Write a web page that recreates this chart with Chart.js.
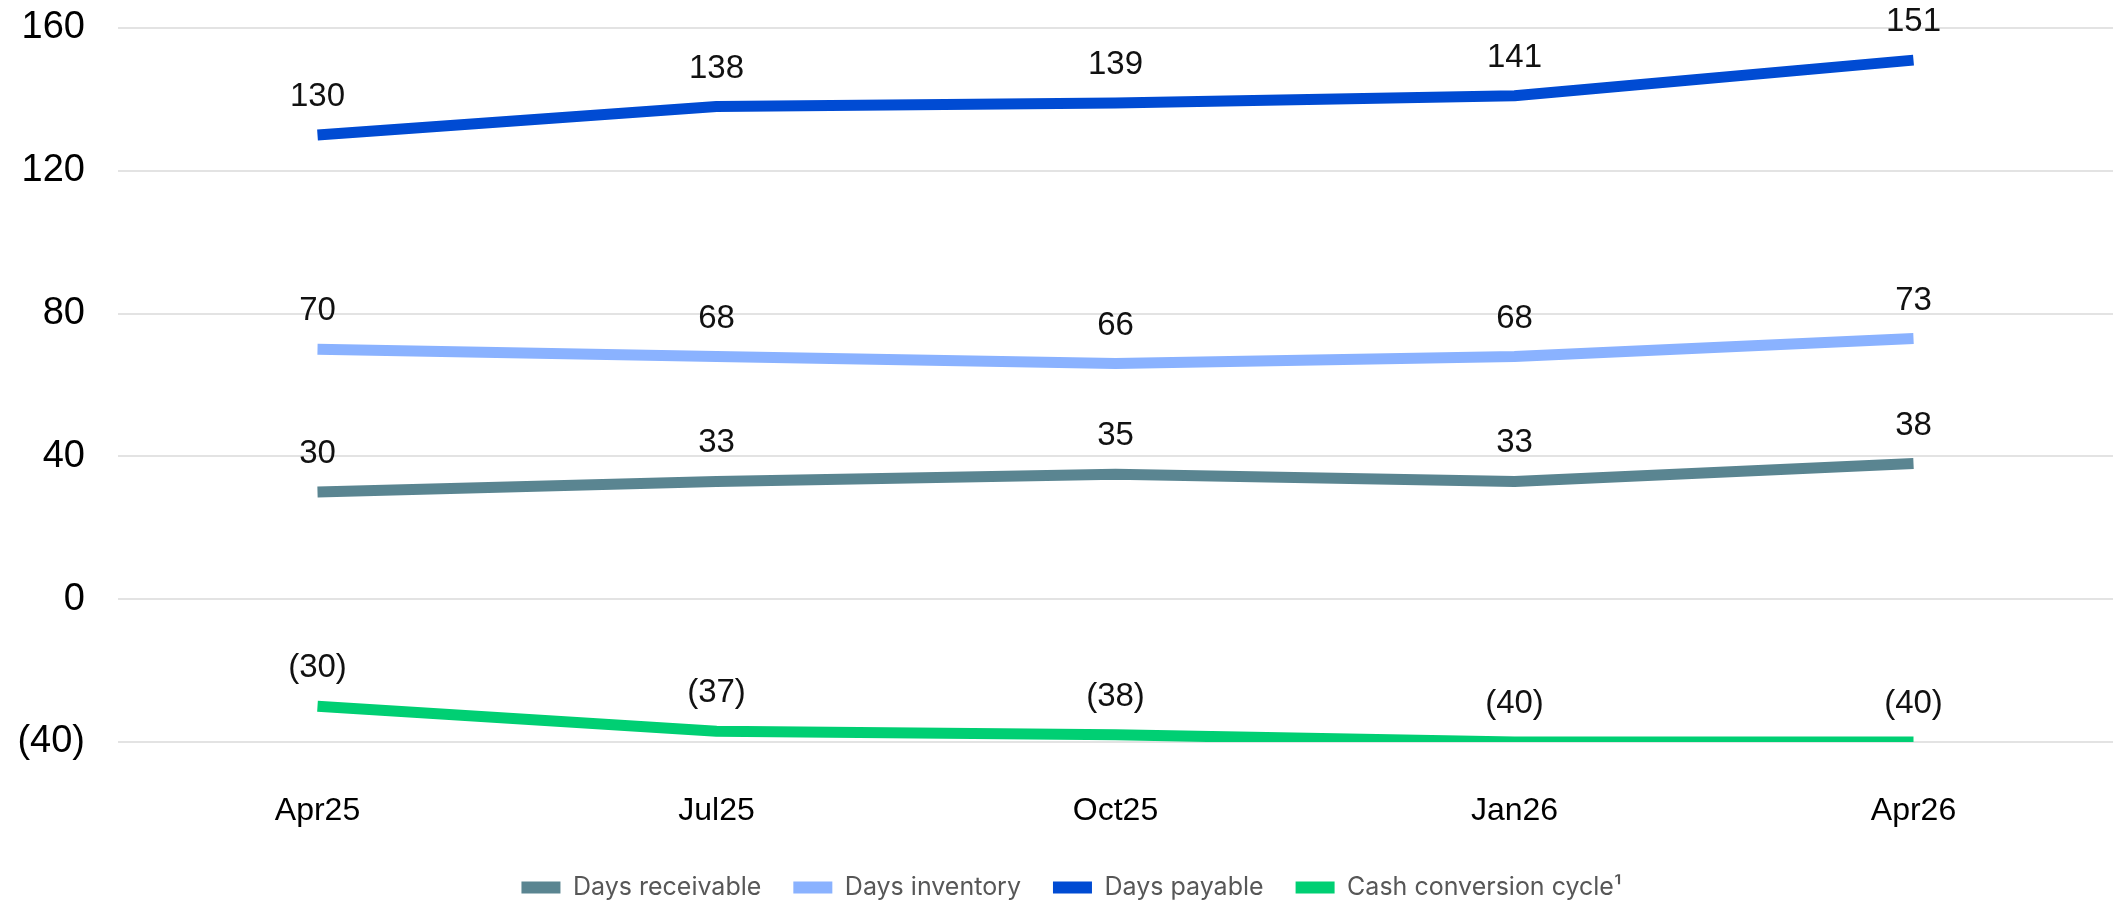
<!DOCTYPE html>
<html>
<head>
<meta charset="utf-8">
<title>Working capital days</title>
<script src="https://cdn.jsdelivr.net/npm/chart.js@4.4.1/dist/chart.umd.min.js"></script>
<style>
  html, body { margin: 0; padding: 0; background: #fff; }
  #wrap { width: 2113px; height: 900px; position: relative; }
</style>
</head>
<body>
<div id="wrap"><canvas id="daysChart"></canvas></div>
<script>
const periods = ["Apr25", "Jul25", "Oct25", "Jan26", "Apr26"];
const daysReceivable = [30, 33, 35, 33, 38];
const daysInventory = [70, 68, 66, 68, 73];
const daysPayable = [130, 138, 139, 141, 151];
const cashConversion = [-30, -37, -38, -40, -40];
const yTicks = [-40, 0, 40, 80, 120, 160];

// accounting style: negatives in brackets
function fmt(v) {
  return v < 0 ? "(" + Math.abs(v) + ")" : String(v);
}

// value labels above each point
const pointLabels = {
  id: "pointLabels",
  afterDatasetsDraw(chart) {
    const ctx = chart.ctx;
    ctx.save();
    ctx.font = "33px 'Liberation Sans', Arial, sans-serif";
    ctx.fillStyle = "#111";
    ctx.textAlign = "center";
    ctx.textBaseline = "middle";
    chart.data.datasets.forEach((ds, i) => {
      const meta = chart.getDatasetMeta(i);
      meta.data.forEach((pt, j) => {
        ctx.fillText(fmt(ds.data[j]), pt.x, pt.y - 38);
      });
    });
    ctx.restore();
  }
};

// nudge the legend row a little to the right
const legendShift = {
  id: "legendShift",
  afterLayout(chart) {
    if (chart.legend) {
      chart.legend.left += 15;
      chart.legend.right += 15;
    }
  }
};

function series(label, data, color) {
  return {
    label: label,
    data: data,
    borderColor: color,
    backgroundColor: color,
    borderWidth: 11,
    borderCapStyle: "butt",
    borderJoinStyle: "round",
    pointRadius: 0,
    pointHoverRadius: 0,
    tension: 0,
    fill: false
  };
}

new Chart(document.getElementById("daysChart"), {
  type: "line",
  data: {
    labels: periods,
    datasets: [
      series("Days receivable", daysReceivable, "#5a8591"),
      series("Days inventory", daysInventory, "#8ab2ff"),
      series("Days payable", daysPayable, "#004bd3"),
      series("Cash conversion cycle\u00b9", cashConversion, "#00cf73")
    ]
  },
  options: {
    responsive: true,
    maintainAspectRatio: false,
    animation: false,
    layout: { padding: { top: 28, right: 0, bottom: -10, left: 0 } },
    plugins: {
      tooltip: { enabled: false },
      legend: {
        position: "bottom",
        labels: {
          boxWidth: 39,
          boxHeight: 12,
          padding: 32,
          color: "#575757",
          font: { family: "Inter, 'Noto Sans', sans-serif", size: 25 },
          generateLabels(chart) {
            return Chart.defaults.plugins.legend.labels.generateLabels(chart).map((item) => {
              item.lineWidth = 0;
              return item;
            });
          }
        }
      }
    },
    scales: {
      x: {
        offset: true,
        afterFit(scale) {
          scale.height = 101;
          scale.paddingLeft = 0;
          scale.paddingRight = 0;
        },
        grid: { display: false, drawTicks: false },
        border: { display: false },
        ticks: {
          padding: 50,
          color: "#000",
          font: { family: "'Liberation Sans', Arial, sans-serif", size: 32 }
        }
      },
      y: {
        min: -40,
        max: 160,
        afterFit(scale) {
          scale.width = 118;
          scale.paddingTop = 0;
          scale.paddingBottom = 0;
        },
        afterBuildTicks(scale) { scale.ticks = yTicks.map((v) => ({ value: v })); },
        grid: { color: "#e3e3e3", lineWidth: 2, drawTicks: false },
        border: { display: false },
        ticks: {
          padding: 33,
          color: "#000",
          font: { family: "'Liberation Sans', Arial, sans-serif", size: 38 },
          callback: (v) => fmt(v)
        }
      }
    }
  },
  plugins: [pointLabels, legendShift]
});
</script>
</body>
</html>
